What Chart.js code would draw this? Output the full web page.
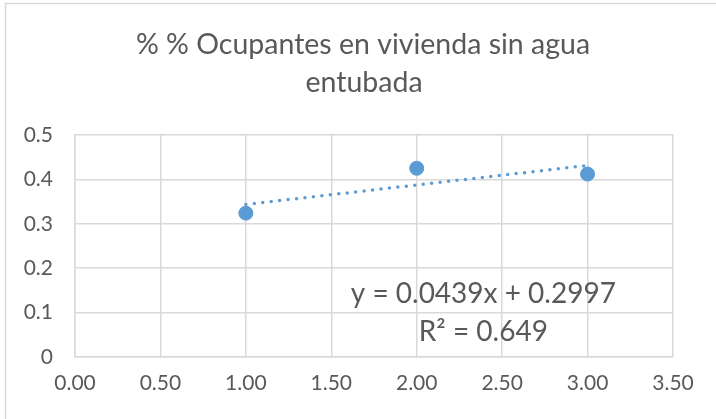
<!DOCTYPE html>
<html>
<head>
<meta charset="utf-8">
<script src="https://cdn.jsdelivr.net/npm/chart.js@4"></script>
<style>
    html, body { margin: 0; padding: 0; background: #ffffff; }
    #wrap { width: 716px; height: 419px; }
</style>
</head>
<body>
<div id="wrap"><canvas id="chart" width="716" height="419"></canvas></div>
<script>
// ── Data ─────────────────────────────────────────────────

const titleLines = ['% % Ocupantes en vivienda sin agua', 'entubada'];
const xValues    = [1, 2, 3];
const yValues    = [0.324, 0.425, 0.412];
const trendX     = [1, 3];
const trendY     = [0.3436, 0.4314];
const equation   = ['y = 0.0439x + 0.2997', 'R² = 0.649'];

// ── Style ────────────────────────────────────────────────

const TEXT  = '#595959';
const GRID  = '#d9d9d9';
const BLUE  = '#5b9bd5';
const FONT  = 'Lato, "Open Sans", sans-serif';

// ── Plugins ──────────────────────────────────────────────

const frame = {
    id: 'frame',
    beforeDraw(chart) {
        const ctx = chart.ctx;
        ctx.save();
        ctx.strokeStyle = GRID;
        ctx.lineWidth = 1.5;
        ctx.strokeRect(5.5, 3.5, 740, 440);
        ctx.restore();
    }
};

// title centred on the whole frame, not on the plot box
const chartTitle = {
    id: 'chartTitle',
    afterDraw(chart) {
        const ctx = chart.ctx;
        ctx.save();
        ctx.fillStyle = TEXT;
        ctx.font = '28.5px ' + FONT;
        ctx.textAlign = 'center';
        ctx.textBaseline = 'alphabetic';
        ctx.fillText(titleLines[0], 363, 54);
        ctx.fillText(titleLines[1], 364, 92);
        ctx.restore();
    }
};

const equationLabel = {
    id: 'equationLabel',
    afterDatasetsDraw(chart) {
        const { ctx, scales } = chart;
        const cx = scales.x.getPixelForValue(2.39);
        ctx.save();
        ctx.fillStyle = TEXT;
        ctx.font = '28px ' + FONT;
        ctx.textAlign = 'center';
        ctx.textBaseline = 'middle';
        ctx.fillText(equation[0], cx, scales.y.getPixelForValue(0.141));
        ctx.fillText(equation[1], cx, scales.y.getPixelForValue(0.056));
        ctx.restore();
    }
};

// ── Chart ────────────────────────────────────────────────

new Chart(document.getElementById('chart').getContext('2d'), {
    type: 'scatter',
    plugins: [frame, chartTitle, equationLabel],
    data: {
        datasets: [
            {
                label: 'trend',
                type: 'line',
                data: trendX.map((x, i) => ({ x, y: trendY[i] })),
                borderColor: BLUE,
                borderWidth: 3.5,
                borderDash: [0, 8.5],
                borderCapStyle: 'round',
                pointRadius: 0,
                fill: false,
                order: 2
            },
            {
                label: 'data',
                data: xValues.map((x, i) => ({ x, y: yValues[i] })),
                backgroundColor: BLUE,
                borderColor: BLUE,
                pointRadius: 7,
                pointHoverRadius: 7,
                order: 1
            }
        ]
    },
    options: {
        responsive: false,
        animation: false,
        layout: { padding: { left: 0, right: 43, top: 135, bottom: 0 } },
        plugins: {
            legend:  { display: false },
            tooltip: { enabled: false },
            title:   { display: false }
        },
        scales: {
            x: {
                type: 'linear',
                min: 0,
                max: 3.5,
                afterFit(axis) { axis.height = 62; },
                ticks: {
                    stepSize: 0.5,
                    color: TEXT,
                    padding: 14,
                    font: { family: FONT, size: 21 },
                    callback: v => v.toFixed(2)
                },
                grid:   { color: GRID, lineWidth: 1.5, drawTicks: false },
                border: { color: GRID, width: 1.5 }
            },
            y: {
                min: 0,
                max: 0.5,
                afterFit(axis) { axis.width = 75; },
                ticks: {
                    stepSize: 0.1,
                    color: TEXT,
                    padding: 22,
                    font: { family: FONT, size: 21 }
                },
                grid:   { color: GRID, lineWidth: 1.5, drawTicks: false },
                border: { color: GRID, width: 1.5 }
            }
        }
    }
});
</script>
</body>
</html>
